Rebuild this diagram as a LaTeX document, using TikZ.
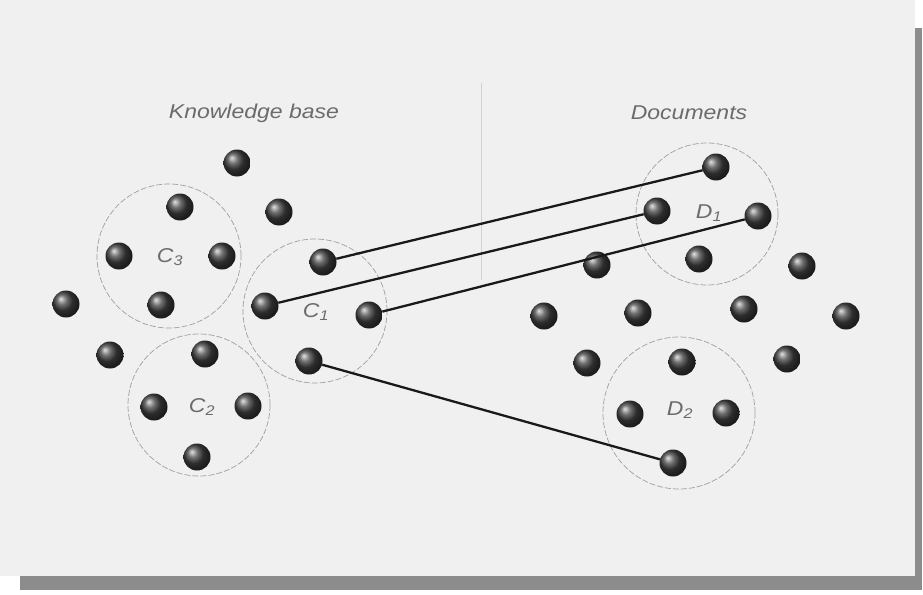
\documentclass[tikz,border=0pt]{standalone}
\usepackage{fontspec}
\newfontfamily\lblfont[FakeStretch=1.15]{Liberation Sans}
\begin{document}
\begin{tikzpicture}[x=1pt,y=-1pt,
  ball/.style={circle, minimum size=27pt, inner sep=0pt, shading=ball, ball color=black!75},
  grp/.style={circle, draw=gray!75, dash pattern=on 6pt off 2pt, line width=0.7pt, inner sep=0pt},
  link/.style={draw=black!90, line width=2.3pt},
  ttl/.style={font=\lblfont\itshape\fontsize{20}{24}\selectfont, text=black!58},
  glbl/.style={font=\lblfont\itshape\fontsize{20}{24}\selectfont, text=black!58}
]
\useasboundingbox (0,0) rectangle (923,594);
\fill[white] (0,0) rectangle (923,594);
\fill[black!45] (20,28) rectangle (922,590);
\fill[black!6] (0,0) rectangle (915,576);
\draw[black!18, line width=0.5pt] (481,83) -- (481,280);

% titles
\node[ttl] (kb) at (254,113) {Knowledge base};
\node[ttl] (docs) at (689,113) {Documents};

% group circles
\node[grp, minimum size=144pt] (gC3) at (169,256) {};
\node[grp, minimum size=144pt] (gC1) at (315,311) {};
\node[grp, minimum size=142pt] (gC2) at (199,405) {};
\node[grp, minimum size=142pt] (gD1) at (707,214) {};
\node[grp, minimum size=152pt] (gD2) at (679,413) {};

% group labels
\node[glbl] (lC3) at (170,257) {C\textsubscript{3}};
\node[glbl] (lC1) at (316,312) {C\textsubscript{1}};
\node[glbl] (lC2) at (202,407) {C\textsubscript{2}};
\node[glbl] (lD1) at (709,213) {D\textsubscript{1}};
\node[glbl] (lD2) at (680,410) {D\textsubscript{2}};

% knowledge base balls
\node[ball] (k1) at (237,163) {};
\node[ball] (c3t) at (180,207) {};
\node[ball] (k2) at (279,212) {};
\node[ball] (c3l) at (119,256) {};
\node[ball] (c3r) at (222,256) {};
\node[ball] (c3b) at (161,305) {};
\node[ball] (k3) at (66,304) {};
\node[ball] (k4) at (110,355) {};
\node[ball] (c2t) at (205,354) {};
\node[ball] (c2l) at (154,407) {};
\node[ball] (c2r) at (248,406) {};
\node[ball] (c2b) at (197,457) {};
\node[ball] (c1t) at (323,262) {};
\node[ball] (c1l) at (265,306) {};
\node[ball] (c1r) at (369,315) {};
\node[ball] (c1b) at (309,361) {};

% document balls
\node[ball] (d1t) at (716,167) {};
\node[ball] (d1l) at (657,211) {};
\node[ball] (d1r) at (758,216) {};
\node[ball] (d1b) at (699,259) {};
\node[ball] (m1) at (597,265) {};
\node[ball] (m2) at (802,266) {};
\node[ball] (m3) at (544,316) {};
\node[ball] (m4) at (638,313) {};
\node[ball] (m5) at (744,309) {};
\node[ball] (m6) at (846,316) {};
\node[ball] (m7) at (587,363) {};
\node[ball] (m8) at (787,359) {};
\node[ball] (d2t) at (682,362) {};
\node[ball] (d2l) at (630,414) {};
\node[ball] (d2r) at (726,413) {};
\node[ball] (d2b) at (673,463) {};

% links
\draw[link] (c1t) -- (d1t);
\draw[link] (c1l) -- (d1l);
\draw[link] (c1r) -- (d1r);
\draw[link] (c1b) -- (d2b);
\end{tikzpicture}
\end{document}
